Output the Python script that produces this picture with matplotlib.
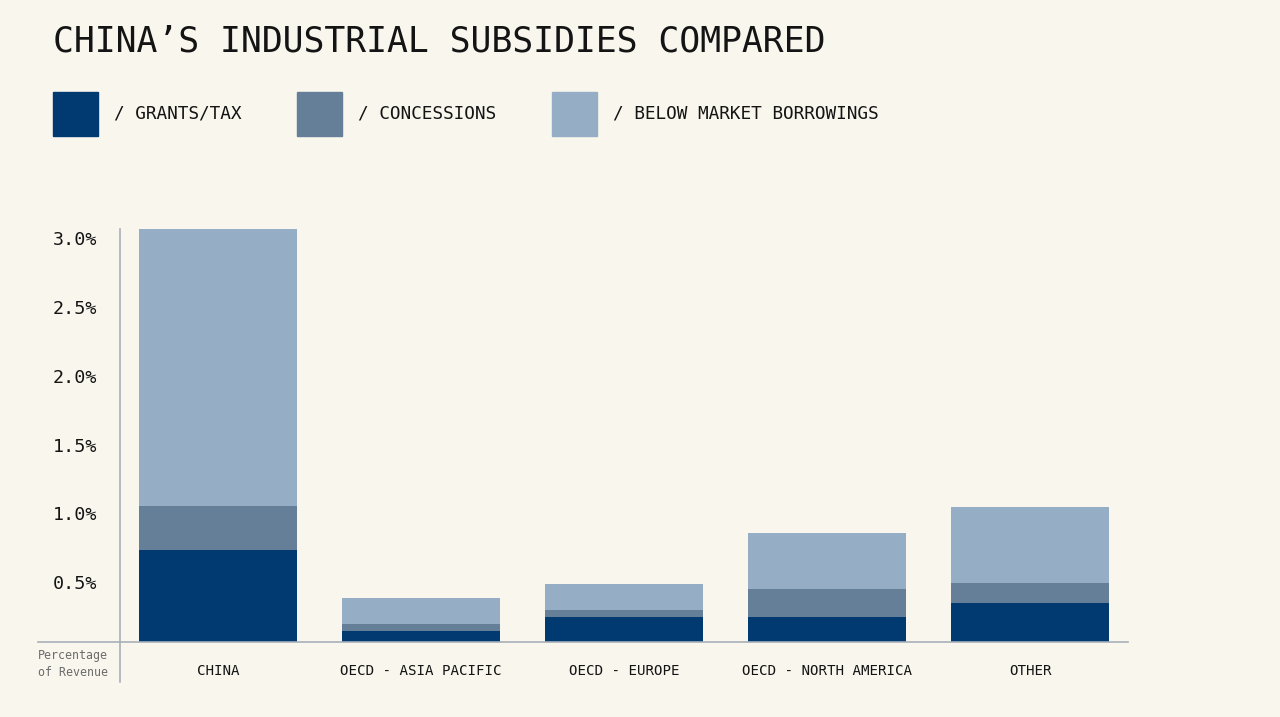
import matplotlib
matplotlib.use("Agg")
import matplotlib.pyplot as plt
from matplotlib.lines import Line2D
from matplotlib.patches import Rectangle
import numpy as np

categories = ["CHINA", "OECD - ASIA PACIFIC", "OECD - EUROPE", "OECD - NORTH AMERICA", "OTHER"]
grants_tax = [0.67, 0.08, 0.18, 0.18, 0.28]
concessions = [0.32, 0.05, 0.05, 0.20, 0.15]
below_market = [2.01, 0.19, 0.19, 0.41, 0.55]
series_names = ["GRANTS/TAX", "CONCESSIONS", "BELOW MARKET BORROWINGS"]
yticks = [0.5, 1.0, 1.5, 2.0, 2.5, 3.0]
ytick_labels = ["0.5%", "1.0%", "1.5%", "2.0%", "2.5%", "3.0%"]

BG = "#F9F6EE"
colors = ["#003A70", "#667F99", "#95ADC5"]
TXT = "#141414"
MONO = ["DejaVu Sans Mono"]

W, H = 1280, 717
fig = plt.figure(figsize=(12.8, 7.17), dpi=100, facecolor=BG)

def fx(px):
    return px / W

def fy(py):
    return 1 - py / H

ax_left, ax_right = 38, 1128
ax_bottom, ax_top = 641.7, 229.3
ax = fig.add_axes([fx(ax_left), fy(ax_bottom), fx(ax_right - ax_left), fy(ax_top) - fy(ax_bottom)])
ax.set_facecolor(BG)

x = np.arange(len(categories))
spacing = 203.0
xlim_lo = (ax_left - 218) / spacing
xlim_hi = (ax_right - 218) / spacing
ax.set_xlim(xlim_lo, xlim_hi)
ax.set_ylim(0, 3.0)

bw = 158 / spacing
b1 = np.array(grants_tax)
b2 = b1 + np.array(concessions)
ax.bar(x, grants_tax, width=bw, color=colors[0], zorder=2)
ax.bar(x, concessions, width=bw, bottom=b1, color=colors[1], zorder=2)
ax.bar(x, below_market, width=bw, bottom=b2, color=colors[2], zorder=2)

for s in ["top", "right", "left"]:
    ax.spines[s].set_visible(False)
ax.spines["bottom"].set_color("#A9AFB8")
ax.spines["bottom"].set_linewidth(1.2)
ax.set_xticks([])
ax.set_yticks([])

# y tick labels (placed just below their value, right aligned)
for v, lab in zip(yticks, ytick_labels):
    ax.annotate(lab, xy=(xlim_lo, v), xycoords="data", xytext=(97 - ax_left, -2),
                textcoords="offset pixels", ha="right", va="top",
                fontsize=13.2, family=MONO, color=TXT)

# category labels
for xi, c in zip(x, categories):
    ax.annotate(c, xy=(xi, 0), xycoords="data", xytext=(0, -(671 - ax_bottom)),
                textcoords="offset pixels", ha="center", va="center",
                fontsize=10.2, family=MONO, color=TXT)

# vertical axis line
fig.add_artist(Line2D([fx(120), fx(120)], [fy(229), fy(682)], color="#A9AFB8", lw=1.2))

# axis caption
fig.text(fx(108), fy(656), "Percentage", ha="right", va="center", fontsize=8.4,
         family=MONO, color="#6b6b6b")
fig.text(fx(108), fy(673), "of Revenue", ha="right", va="center", fontsize=8.4,
         family=MONO, color="#6b6b6b")

# title
fig.text(fx(53), fy(41), "CHINA\u2019S INDUSTRIAL SUBSIDIES COMPARED", ha="left", va="center",
         fontsize=25, family=MONO, color=TXT)

# legend
leg_x = [53, 297, 552]
for lx, col, name in zip(leg_x, colors, series_names):
    fig.add_artist(Rectangle((fx(lx), fy(136)), fx(45), fy(92) - fy(136), color=col,
                             transform=fig.transFigure))
    fig.text(fx(lx + 61), fy(114), "/ " + name, ha="left", va="center", fontsize=12.8,
             family=MONO, color=TXT)

fig.savefig("out.png", dpi=100, facecolor=BG)
